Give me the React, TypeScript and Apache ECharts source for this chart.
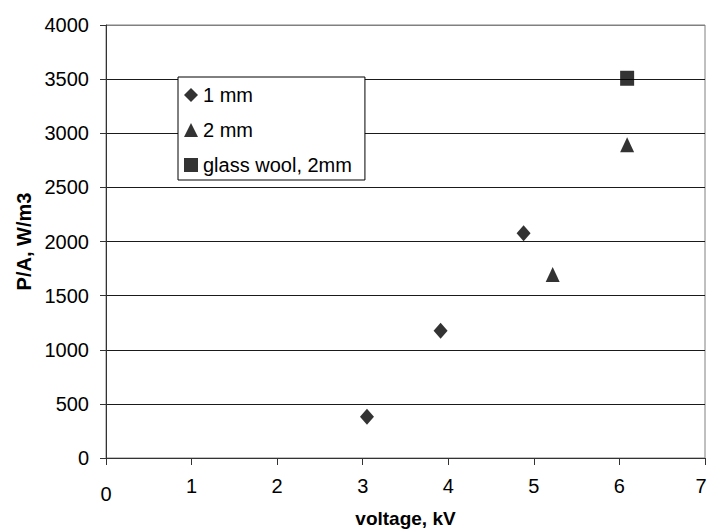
import React, { useEffect, useRef } from "react";
import * as echarts from "echarts";

const seriesNames = ["1 mm", "2 mm", "glass wool, 2mm"];
const oneMm: [number, number][] = [
  [3.05, 382],
  [3.91, 1175],
  [4.88, 2076],
];
const twoMm: [number, number][] = [
  [5.22, 1695],
  [6.09, 2893],
];
const glassWool: [number, number][] = [[6.09, 3508]];
const xTicks = [0, 1, 2, 3, 4, 5, 6, 7];
const yTicks = [0, 500, 1000, 1500, 2000, 2500, 3000, 3500, 4000];

const FONT = "'Liberation Sans', Arial, sans-serif";

export default function App() {
  const ref = useRef<HTMLDivElement>(null);
  useEffect(() => {
    if (!ref.current) return;
    const chart = echarts.init(ref.current, null, { renderer: "svg" });
    const gridColors = yTicks.map((_, i) => (i === yTicks.length - 1 ? "#808080" : "#1a1a1a"));
    const lastX = xTicks[xTicks.length - 1];
    chart.setOption({
      animation: false,
      backgroundColor: "#ffffff",
      textStyle: { fontFamily: FONT },
      grid: {
        left: 106,
        right: 4,
        top: 25,
        bottom: 74,
        show: true,
        borderColor: "#808080",
        borderWidth: 1,
        containLabel: false,
        outerBoundsMode: "none",
      },
      legend: {
        orient: "vertical",
        left: 178,
        top: 77,
        padding: [8, 13, 5, 6],
        itemGap: 15,
        itemWidth: 14,
        itemHeight: 14,
        borderColor: "#000",
        borderWidth: 1,
        backgroundColor: "#fff",
        textStyle: { fontFamily: FONT, fontSize: 20, color: "#000" },
        data: [
          { name: seriesNames[0], icon: "diamond" },
          { name: seriesNames[1], icon: "triangle" },
          { name: seriesNames[2], icon: "rect" },
        ],
      },
      xAxis: {
        type: "value",
        min: xTicks[0],
        max: lastX,
        interval: 1,
        name: "voltage, kV",
        nameLocation: "middle",
        nameGap: 50,
        nameTextStyle: { fontFamily: FONT, fontSize: 19, fontWeight: "bold", color: "#000" },
        axisLine: { show: true, lineStyle: { color: "#333", width: 1 } },
        axisTick: { show: true, length: 7, lineStyle: { color: "#333" } },
        splitLine: { show: false },
        axisLabel: {
          margin: 18,
          fontFamily: FONT,
          fontSize: 20,
          color: "#000",
          formatter: (v: number) =>
            v === 0 ? "{low|0}" : v === lastX ? "{r|" + v + "}" : "{n|" + v + "}",
          rich: {
            low: { fontFamily: FONT, fontSize: 20, color: "#000", padding: [8, 0, 0, 0] },
            r: { fontFamily: FONT, fontSize: 20, color: "#000", padding: [0, 8, 0, 0] },
            n: { fontFamily: FONT, fontSize: 20, color: "#000" },
          },
        },
      },
      yAxis: {
        type: "value",
        min: yTicks[0],
        max: yTicks[yTicks.length - 1],
        interval: 500,
        name: "P/A, W/m3",
        nameLocation: "middle",
        nameRotate: 90,
        nameGap: 64,
        nameTextStyle: { fontFamily: FONT, fontSize: 20, fontWeight: "bold", color: "#000" },
        axisLine: { show: true, lineStyle: { color: "#333", width: 1 } },
        axisTick: { show: true, length: 6, lineStyle: { color: "#333" } },
        splitLine: { show: true, lineStyle: { color: gridColors, width: 1 } },
        axisLabel: {
          margin: 17,
          fontFamily: FONT,
          fontSize: 20,
          color: "#000",
          formatter: (v: number) => String(v),
        },
      },
      series: [
        {
          name: seriesNames[0],
          type: "scatter",
          symbol: "diamond",
          symbolSize: [14, 16],
          itemStyle: { color: "#000" },
          data: oneMm,
        },
        {
          name: seriesNames[1],
          type: "scatter",
          symbol: "triangle",
          symbolSize: [14, 15],
          itemStyle: { color: "#000" },
          data: twoMm,
        },
        {
          name: seriesNames[2],
          type: "scatter",
          symbol: "rect",
          symbolSize: [14, 15],
          itemStyle: { color: "#000" },
          data: glassWool,
        },
      ],
    });
    return () => chart.dispose();
  }, []);
  return (
    <div
      ref={ref}
      style={{ position: "absolute", left: 0, top: 0, width: 709, height: 532, background: "#fff" }}
    />
  );
}
